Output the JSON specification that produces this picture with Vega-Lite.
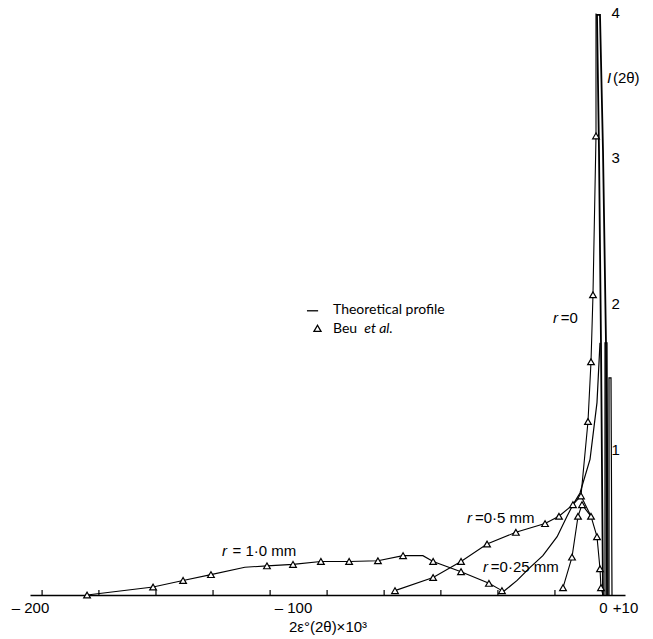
{
  "$schema": "https://vega.github.io/schema/vega-lite/v6.json",
  "width": 595,
  "height": 583,
  "autosize": {"type": "none"},
  "padding": {"left": 30, "top": 12, "right": 28, "bottom": 44},
  "background": "white",
  "config": {"view": {"stroke": null}, "font": "Liberation Sans", "axis": {"labelFont": "Liberation Sans", "titleFont": "Liberation Sans"}},
  "datasets": {
    "c": [
      {"s": "r1.0", "k": "exp", "o": 1, "x": -178.3, "y": 0.0, "m": true},
      {"s": "r1.0", "k": "exp", "o": 2, "x": -153.2, "y": 0.055, "m": true},
      {"s": "r1.0", "k": "exp", "o": 3, "x": -141.8, "y": 0.1, "m": true},
      {"s": "r1.0", "k": "exp", "o": 4, "x": -131.2, "y": 0.14, "m": true},
      {"s": "r1.0", "k": "exp", "o": 5, "x": -118.3, "y": 0.19, "m": false},
      {"s": "r1.0", "k": "exp", "o": 6, "x": -109.9, "y": 0.2, "m": true},
      {"s": "r1.0", "k": "exp", "o": 7, "x": -100.0, "y": 0.21, "m": true},
      {"s": "r1.0", "k": "exp", "o": 8, "x": -91.0, "y": 0.23, "m": true},
      {"s": "r1.0", "k": "exp", "o": 9, "x": -81.9, "y": 0.23, "m": true},
      {"s": "r1.0", "k": "exp", "o": 10, "x": -72.6, "y": 0.235, "m": true},
      {"s": "r1.0", "k": "exp", "o": 11, "x": -64.5, "y": 0.27, "m": true},
      {"s": "r1.0", "k": "exp", "o": 12, "x": -58.1, "y": 0.27, "m": false},
      {"s": "r1.0", "k": "exp", "o": 13, "x": -54.8, "y": 0.23, "m": true},
      {"s": "r1.0", "k": "exp", "o": 14, "x": -45.8, "y": 0.16, "m": true},
      {"s": "r1.0", "k": "exp", "o": 15, "x": -36.8, "y": 0.08, "m": true},
      {"s": "r1.0", "k": "exp", "o": 16, "x": -32.6, "y": 0.03, "m": true},

      {"s": "r0.5", "k": "exp", "o": 1, "x": -67.1, "y": 0.03, "m": true},
      {"s": "r0.5", "k": "exp", "o": 2, "x": -54.8, "y": 0.12, "m": true},
      {"s": "r0.5", "k": "exp", "o": 3, "x": -45.8, "y": 0.23, "m": true},
      {"s": "r0.5", "k": "exp", "o": 4, "x": -37.4, "y": 0.35, "m": true},
      {"s": "r0.5", "k": "exp", "o": 5, "x": -28.1, "y": 0.43, "m": true},
      {"s": "r0.5", "k": "exp", "o": 6, "x": -18.7, "y": 0.49, "m": true},
      {"s": "r0.5", "k": "exp", "o": 7, "x": -14.2, "y": 0.54, "m": true},
      {"s": "r0.5", "k": "exp", "o": 8, "x": -9.7, "y": 0.62, "m": true},
      {"s": "r0.5", "k": "exp", "o": 9, "x": -7.1, "y": 0.68, "m": true},
      {"s": "r0.5", "k": "exp", "o": 10, "x": -3.87, "y": 0.54, "m": false},

      {"s": "r0.25", "k": "exp", "o": 1, "x": -12.9, "y": 0.05, "m": true},
      {"s": "r0.25", "k": "exp", "o": 2, "x": -10.0, "y": 0.26, "m": true},
      {"s": "r0.25", "k": "exp", "o": 3, "x": -8.06, "y": 0.54, "m": true},
      {"s": "r0.25", "k": "exp", "o": 4, "x": -6.77, "y": 0.62, "m": true},
      {"s": "r0.25", "k": "exp", "o": 5, "x": -3.87, "y": 0.54, "m": true},
      {"s": "r0.25", "k": "exp", "o": 6, "x": -1.94, "y": 0.4, "m": true},
      {"s": "r0.25", "k": "exp", "o": 7, "x": -0.97, "y": 0.18, "m": true},
      {"s": "r0.25", "k": "exp", "o": 8, "x": -0.65, "y": 0.05, "m": true},
      {"s": "r0.25", "k": "exp", "o": 9, "x": 0.0, "y": 0.0, "m": false},

      {"s": "r0", "k": "exp", "o": 1, "x": -2.26, "y": 3.99, "m": false},
      {"s": "r0", "k": "exp", "o": 2, "x": -2.26, "y": 3.15, "m": true},
      {"s": "r0", "k": "exp", "o": 3, "x": -3.23, "y": 2.06, "m": true},
      {"s": "r0", "k": "exp", "o": 4, "x": -3.87, "y": 1.6, "m": true},
      {"s": "r0", "k": "exp", "o": 5, "x": -4.84, "y": 1.19, "m": true},
      {"s": "r0", "k": "exp", "o": 6, "x": -7.1, "y": 0.68, "m": false},

      {"s": "tw", "k": "wing", "o": 1, "x": -32.3, "y": 0.02, "m": false},
      {"s": "tw", "k": "wing", "o": 2, "x": -27.7, "y": 0.1, "m": false},
      {"s": "tw", "k": "wing", "o": 3, "x": -23.5, "y": 0.19, "m": false},
      {"s": "tw", "k": "wing", "o": 4, "x": -19.4, "y": 0.27, "m": false},
      {"s": "tw", "k": "wing", "o": 5, "x": -14.8, "y": 0.4, "m": false},
      {"s": "tw", "k": "wing", "o": 6, "x": -11.6, "y": 0.54, "m": false},
      {"s": "tw", "k": "wing", "o": 7, "x": -9.68, "y": 0.62, "m": false},
      {"s": "tw", "k": "wing", "o": 8, "x": -7.42, "y": 0.7, "m": false},
      {"s": "tw", "k": "wing", "o": 9, "x": -4.19, "y": 0.93, "m": false},
      {"s": "tw", "k": "wing", "o": 10, "x": -1.94, "y": 1.32, "m": false},
      {"s": "tw", "k": "wing", "o": 11, "x": -0.97, "y": 1.73, "m": false},

      {"s": "t0", "k": "theory", "o": 1, "x": 0.0, "y": 0.0, "m": false},
      {"s": "t0", "k": "theory", "o": 2, "x": -0.65, "y": 1.73, "m": false},
      {"s": "t0", "k": "theory", "o": 3, "x": -1.29, "y": 3.05, "m": false},
      {"s": "t0", "k": "theory", "o": 4, "x": -1.94, "y": 3.98, "m": false},
      {"s": "t0", "k": "theory", "o": 5, "x": -0.97, "y": 3.98, "m": false},
      {"s": "t0", "k": "theory", "o": 6, "x": 0.0, "y": 3.05, "m": false},
      {"s": "t0", "k": "theory", "o": 7, "x": 1.36, "y": 1.73, "m": false},
      {"s": "t0", "k": "theory", "o": 8, "x": 1.82, "y": 0.0, "m": false},

      {"s": "t1", "k": "wing", "o": 1, "x": 0.91, "y": 0.0, "m": false},
      {"s": "t1", "k": "wing", "o": 2, "x": 0.91, "y": 1.73, "m": false},
      {"s": "t1", "k": "wing", "o": 3, "x": 1.82, "y": 1.73, "m": false},
      {"s": "t1", "k": "wing", "o": 4, "x": 2.27, "y": 0.0, "m": false},

      {"s": "t2", "k": "wing", "o": 1, "x": 2.73, "y": 0.0, "m": false},
      {"s": "t2", "k": "wing", "o": 2, "x": 2.73, "y": 1.49, "m": false},
      {"s": "t2", "k": "wing", "o": 3, "x": 3.64, "y": 1.49, "m": false},
      {"s": "t2", "k": "wing", "o": 4, "x": 4.09, "y": 0.0, "m": false}
    ],
    "ticks": [
      {"x": -195.4}, {"x": -173.8}, {"x": -152.1}, {"x": -130.4}, {"x": -108.7},
      {"x": -89.0}, {"x": -70.6}, {"x": -52.3}, {"x": -33.9}, {"x": -15.5}
    ],
    "txt": [
      {"t": "= 1·0 mm", "x": -123.0, "y": 0.30, "it": false, "f": "Liberation Sans"},
      {"t": "r", "x": -127.0, "y": 0.30, "it": true, "f": "Liberation Sans"},
      {"t": "=0·5 mm", "x": -41.3, "y": 0.53, "it": false, "f": "Liberation Sans"},
      {"t": "r", "x": -43.9, "y": 0.53, "it": true, "f": "Liberation Sans"},
      {"t": "=0·25 mm", "x": -36.2, "y": 0.19, "it": false, "f": "Liberation Sans"},
      {"t": "r", "x": -38.7, "y": 0.19, "it": true, "f": "Liberation Sans"},
      {"t": "=0", "x": -13.6, "y": 1.9, "it": false, "f": "Liberation Sans"},
      {"t": "r", "x": -16.1, "y": 1.9, "it": true, "f": "Liberation Sans"},
      {"t": "I", "x": 1.82, "y": 3.55, "it": true, "f": "Liberation Sans"},
      {"t": "(2θ)", "x": 4.5, "y": 3.55, "it": false, "f": "Liberation Sans"},
      {"t": "Theoretical profile", "x": -87.1, "y": 1.955, "it": false, "f": "Lato"},
      {"t": "Beu", "x": -87.1, "y": 1.825, "it": false, "f": "Lato"},
      {"t": "et al.", "x": -77.0, "y": 1.825, "it": true, "f": "Lato"}
    ],
    "leg": [
      {"x": -95.5, "x2": -91.9, "y": 1.95, "ty": 1.83, "tx": -92.1}
    ]
  },
  "layer": [
    {
      "data": {"name": "c"},
      "transform": [{"filter": "datum.k == 'theory'"}],
      "mark": {"type": "line", "stroke": "black", "strokeWidth": 1.8},
      "encoding": {
        "x": {
          "field": "x", "type": "quantitative",
          "scale": {"type": "linear", "domain": [-200, -100, 0, 10], "range": [0, 263, 573, 595], "nice": false, "zero": false},
          "axis": {
            "values": [-200, -100, 0, 10],
            "labelExpr": "datum.value == -200 ? '– 200' : datum.value == -100 ? '– 100' : datum.value == 0 ? '0' : '+10'",
            "ticks": false,
            "labelPadding": 5,
            "labelFont": "Liberation Sans",
            "labelFontSize": 15,
            "labelColor": "black",
            "labelOverlap": false,
            "labelBound": false,
            "labelFlush": false,
            "domainColor": "black",
            "domainWidth": 1.5,
            "grid": false,
            "title": "2ε°(2θ)×10³",
            "titleFont": "Liberation Sans",
            "titleFontSize": 15,
            "titleFontWeight": "normal",
            "titleColor": "black",
            "titlePadding": 4
          }
        },
        "y": {
          "field": "y", "type": "quantitative",
          "scale": {"domain": [0, 4], "nice": false, "zero": true},
          "axis": {
            "orient": "right",
            "offset": -15,
            "values": [1, 2, 3, 4],
            "format": "d",
            "domain": false,
            "ticks": false,
            "grid": false,
            "labelPadding": 1,
            "labelFont": "Liberation Sans",
            "labelFontSize": 15,
            "labelColor": "black",
            "labelAlign": "left",
            "title": null
          }
        },
        "detail": {"field": "s"},
        "order": {"field": "o", "type": "quantitative"}
      }
    },
    {
      "data": {"name": "c"},
      "transform": [{"filter": "datum.k == 'wing'"}],
      "mark": {"type": "line", "stroke": "black", "strokeWidth": 1.2},
      "encoding": {
        "x": {"field": "x", "type": "quantitative"},
        "y": {"field": "y", "type": "quantitative"},
        "detail": {"field": "s"},
        "order": {"field": "o", "type": "quantitative"}
      }
    },
    {
      "data": {"name": "c"},
      "transform": [{"filter": "datum.k == 'exp'"}],
      "mark": {"type": "line", "stroke": "black", "strokeWidth": 1.1},
      "encoding": {
        "x": {"field": "x", "type": "quantitative"},
        "y": {"field": "y", "type": "quantitative"},
        "detail": {"field": "s"},
        "order": {"field": "o", "type": "quantitative"}
      }
    },
    {
      "data": {"name": "ticks"},
      "mark": {"type": "rule", "stroke": "black", "strokeWidth": 1.2},
      "encoding": {
        "x": {"field": "x", "type": "quantitative"},
        "y": {"datum": 0},
        "y2": {"datum": 0.035}
      }
    },
    {
      "data": {"name": "c"},
      "transform": [{"filter": "datum.m"}],
      "mark": {"type": "point", "shape": "triangle-up", "filled": true, "fill": "white", "stroke": "black", "strokeWidth": 1.2, "size": 45, "opacity": 1},
      "encoding": {
        "x": {"field": "x", "type": "quantitative"},
        "y": {"field": "y", "type": "quantitative"}
      }
    },
    {
      "data": {"name": "leg"},
      "mark": {"type": "rule", "stroke": "black", "strokeWidth": 1.3},
      "encoding": {
        "x": {"field": "x", "type": "quantitative"},
        "x2": {"field": "x2"},
        "y": {"field": "y", "type": "quantitative"}
      }
    },
    {
      "data": {"name": "leg"},
      "mark": {"type": "point", "shape": "triangle-up", "filled": true, "fill": "white", "stroke": "black", "strokeWidth": 1.3, "size": 50, "opacity": 1},
      "encoding": {
        "x": {"field": "tx", "type": "quantitative"},
        "y": {"field": "ty", "type": "quantitative"}
      }
    },
    {
      "data": {"name": "txt"},
      "transform": [{"filter": "!datum.it && datum.f == 'Liberation Sans'"}],
      "mark": {"type": "text", "align": "left", "baseline": "middle", "fontSize": 15, "font": "Liberation Sans", "color": "black"},
      "encoding": {
        "x": {"field": "x", "type": "quantitative"},
        "y": {"field": "y", "type": "quantitative"},
        "text": {"field": "t"}
      }
    },
    {
      "data": {"name": "txt"},
      "transform": [{"filter": "datum.it && datum.f == 'Liberation Sans'"}],
      "mark": {"type": "text", "align": "left", "baseline": "middle", "fontSize": 15, "fontStyle": "italic", "font": "Liberation Sans", "color": "black"},
      "encoding": {
        "x": {"field": "x", "type": "quantitative"},
        "y": {"field": "y", "type": "quantitative"},
        "text": {"field": "t"}
      }
    },
    {
      "data": {"name": "txt"},
      "transform": [{"filter": "!datum.it && datum.f == 'Lato'"}],
      "mark": {"type": "text", "align": "left", "baseline": "middle", "fontSize": 14, "font": "Lato", "color": "black"},
      "encoding": {
        "x": {"field": "x", "type": "quantitative"},
        "y": {"field": "y", "type": "quantitative"},
        "text": {"field": "t"}
      }
    },
    {
      "data": {"name": "txt"},
      "transform": [{"filter": "datum.it && datum.f == 'Lato'"}],
      "mark": {"type": "text", "align": "left", "baseline": "middle", "fontSize": 14, "fontStyle": "italic", "font": "Lato", "color": "black"},
      "encoding": {
        "x": {"field": "x", "type": "quantitative"},
        "y": {"field": "y", "type": "quantitative"},
        "text": {"field": "t"}
      }
    }
  ]
}
